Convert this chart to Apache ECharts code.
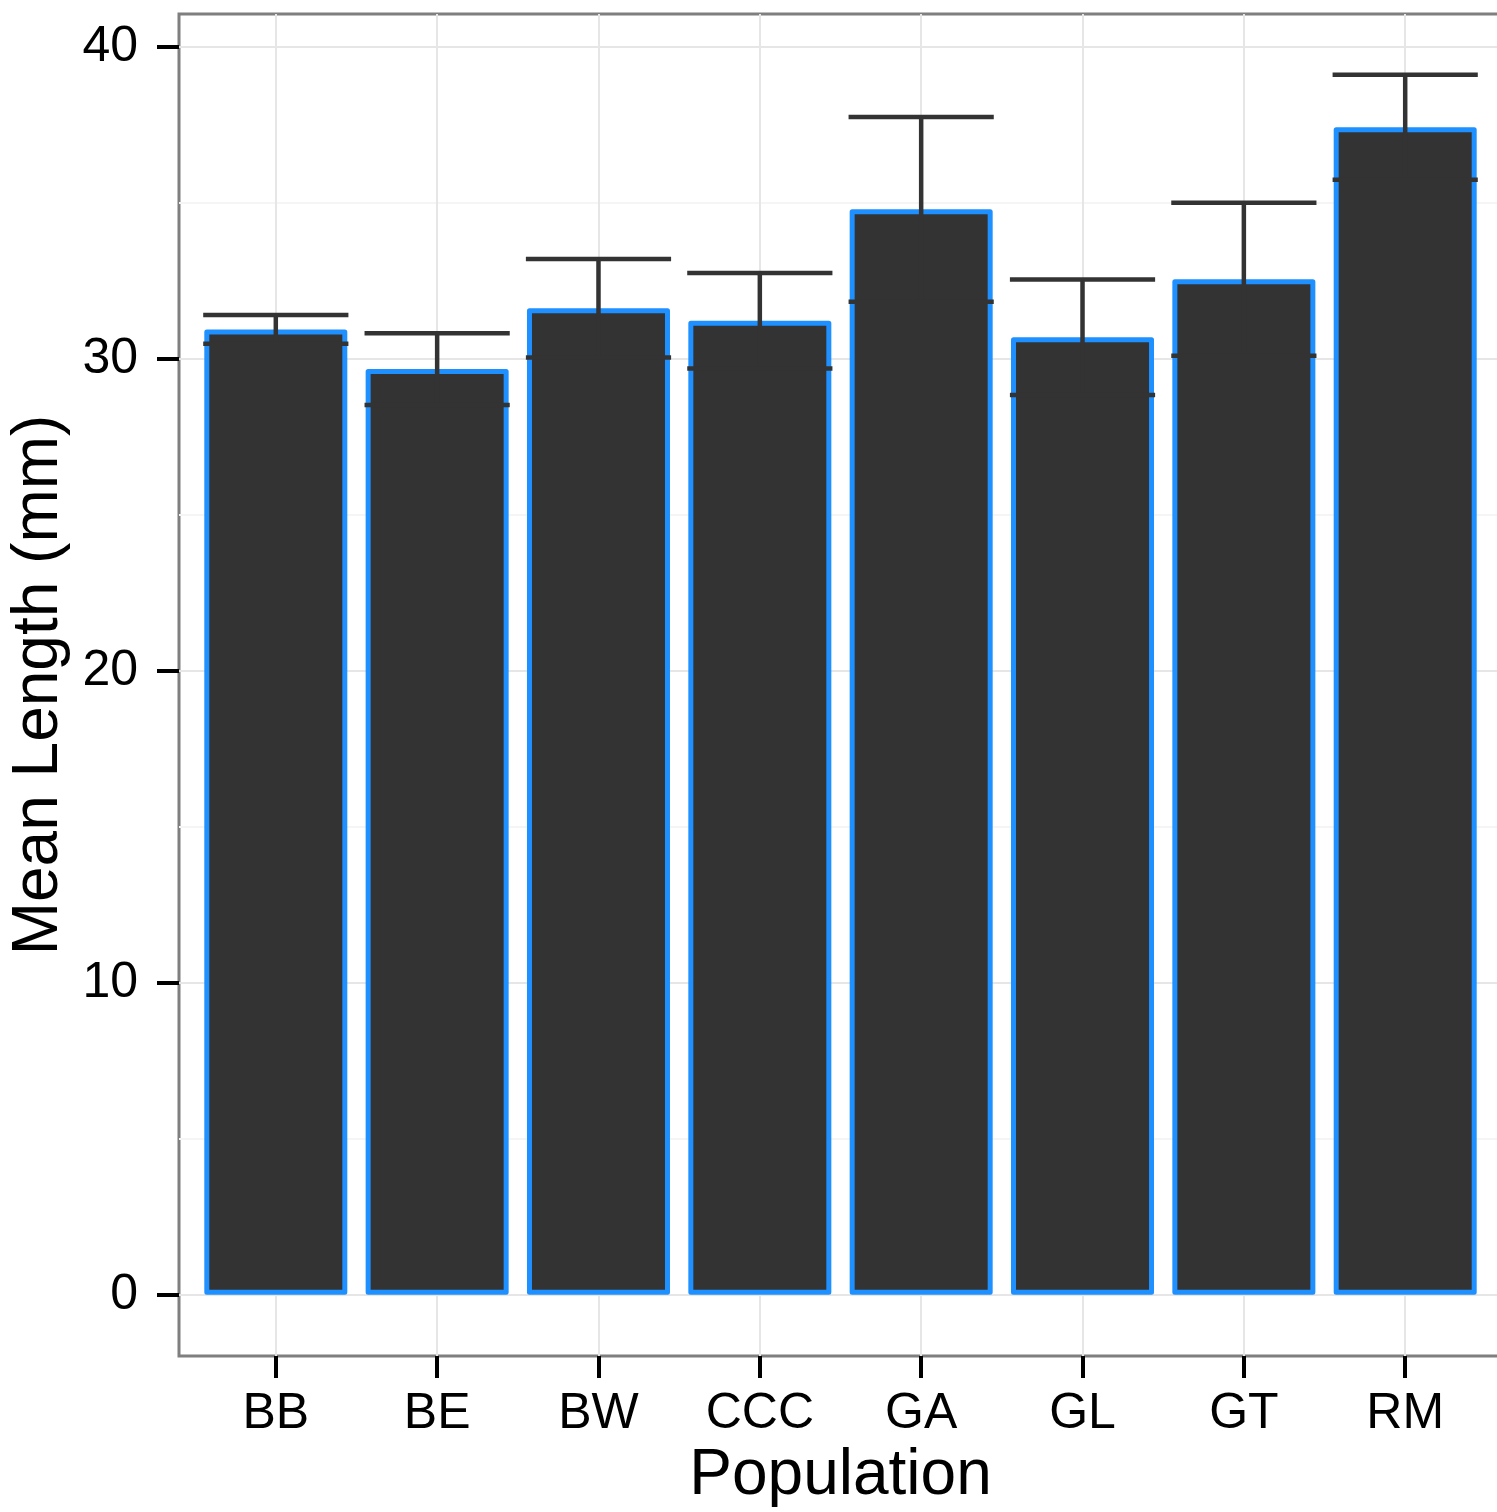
<!DOCTYPE html>
<html>
<head>
<meta charset="utf-8">
<script src="https://cdn.jsdelivr.net/npm/echarts@6/dist/echarts.min.js"></script>
<style>
  html, body { margin: 0; padding: 0; background: #fff; }
  #main { width: 1497px; height: 1512px; }
</style>
</head>
<body>
<div id="main"></div>
<script>
var populations = ['BB', 'BE', 'BW', 'CCC', 'GA', 'GL', 'GT', 'RM'];
var meanLength = [30.94, 29.67, 31.62, 31.22, 34.79, 30.69, 32.55, 37.42];
var stdError = [0.46, 1.15, 1.58, 1.53, 2.96, 1.85, 2.45, 1.68];
var majorTicks = [0, 10, 20, 30, 40];
var minorTicks = [5, 15, 25, 35];

var FONT = 'Liberation Sans, Arial, Helvetica, sans-serif';
var positions = populations.map(function (p, i) { return i + 1; });

var chartDom = document.getElementById('main');
var myChart = echarts.init(chartDom, null, { renderer: 'canvas' });

var barData = meanLength.map(function (v, i) { return [positions[i], v]; });
var errData = meanLength.map(function (v, i) {
    return [positions[i], v - stdError[i], v + stdError[i]];
});

var option = {
    backgroundColor: '#ffffff',
    animation: false,
    grid: {
        left: 179,
        right: -5,
        top: 14,
        bottom: 156,
        outerBoundsMode: 'none',
        containLabel: false,
        show: true,
        backgroundColor: '#ffffff',
        borderColor: '#7f7f7f',
        borderWidth: 3
    },
    xAxis: {
        type: 'value',
        min: 0.4,
        max: 8.6,
        name: 'Population',
        nameLocation: 'middle',
        nameGap: 86,
        nameTextStyle: { fontSize: 64, color: '#000', fontFamily: FONT },
        axisLine: { show: false, onZero: false },
        axisTick: {
            show: true,
            customValues: positions,
            length: 22,
            lineStyle: { color: '#000', width: 4 }
        },
        axisLabel: {
            customValues: positions,
            margin: 33,
            fontSize: 50,
            color: '#000',
            fontFamily: FONT,
            formatter: function (v) { return populations[Math.round(v) - 1] || ''; }
        },
        splitLine: { show: true, lineStyle: { color: '#e6e6e6', width: 2 } }
    },
    yAxis: [
        {
            type: 'value',
            min: -1.96,
            max: 41.05,
            name: 'Mean Length (mm)',
            nameLocation: 'middle',
            nameGap: 107,
            nameRotate: 90,
            nameTextStyle: { fontSize: 64, color: '#000', fontFamily: FONT },
            axisLine: { show: false, onZero: false },
            axisTick: {
                show: true,
                customValues: majorTicks,
                length: 22,
                lineStyle: { color: '#000', width: 4 }
            },
            axisLabel: {
                customValues: majorTicks,
                margin: 41,
                fontSize: 50,
                color: '#000',
                fontFamily: FONT
            },
            splitLine: { show: true, lineStyle: { color: '#e6e6e6', width: 2 } }
        },
        {
            type: 'value',
            min: -1.96,
            max: 41.05,
            axisLine: { show: false, onZero: false },
            axisTick: { show: false, customValues: minorTicks },
            axisLabel: { show: false, customValues: minorTicks },
            splitLine: { show: true, lineStyle: { color: '#f5f5f5', width: 2 } }
        }
    ],
    series: [
        {
            type: 'bar',
            data: barData,
            barWidth: 143,
            z: 2,
            itemStyle: {
                color: '#333333',
                borderColor: '#1e90ff',
                borderWidth: 5,
                borderJoin: 'round'
            }
        },
        {
            type: 'custom',
            z: 5,
            data: errData,
            encode: { x: 0, y: [1, 2] },
            renderItem: function (params, api) {
                var x = api.value(0);
                var lo = api.coord([x, api.value(1)]);
                var hi = api.coord([x, api.value(2)]);
                var half = api.size([0.9, 0])[0] / 2;
                var style = { stroke: '#333333', lineWidth: 4.5, fill: null };
                return {
                    type: 'group',
                    children: [
                        { type: 'line', shape: { x1: hi[0], y1: hi[1], x2: lo[0], y2: lo[1] }, style: style },
                        { type: 'line', shape: { x1: hi[0] - half, y1: hi[1], x2: hi[0] + half, y2: hi[1] }, style: style },
                        { type: 'line', shape: { x1: lo[0] - half, y1: lo[1], x2: lo[0] + half, y2: lo[1] }, style: style }
                    ]
                };
            }
        }
    ]
};

option && myChart.setOption(option);
</script>
</body>
</html>
